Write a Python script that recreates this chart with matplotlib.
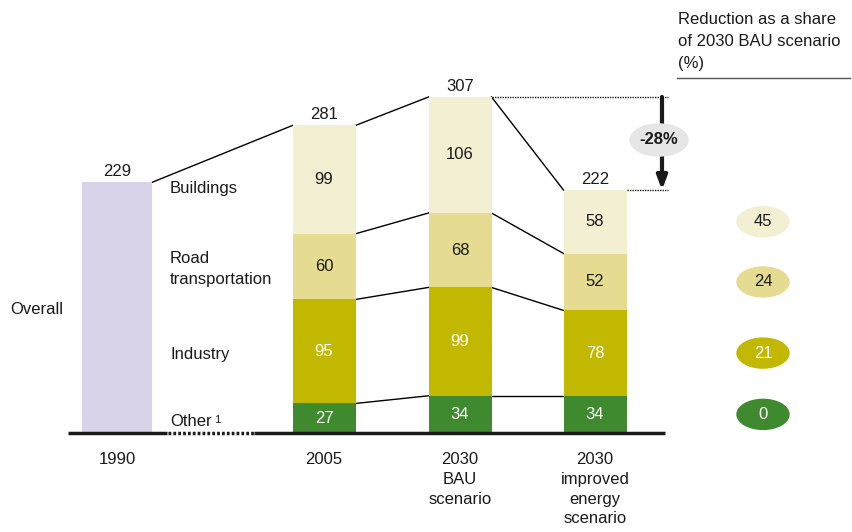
import matplotlib
matplotlib.use('Agg')
import matplotlib.pyplot as plt
from matplotlib.patches import Ellipse

plt.rcParams['font.family'] = ['Liberation Sans', 'DejaVu Sans']

# ── Data ──────────────────────────────────────────────────────
periods = ["1990", "2005", "2030\nBAU\nscenario", "2030\nimproved\nenergy\nscenario"]
overall_1990 = 229
sectors = ["Other", "Industry", "Road\ntransportation", "Buildings"]   # bottom -> top
other = [27, 34, 34]
industry = [95, 99, 78]
road = [60, 68, 52]
buildings = [99, 106, 58]
reduction_pct = [0, 21, 24, 45]   # share of 2030 BAU, per sector (bottom -> top)

# ── Style ─────────────────────────────────────────────────────
SECTOR_COLORS = ['#3f8a2f', '#c3b800', '#e6dc91', '#f3efd3']
SECTOR_TEXT = ['white', 'white', '#1a1a1a', '#1a1a1a']
OVERALL_COLOR = '#d8d3e8'
INK = '#1a1a1a'
FS = 12
LS = 1.58

# layout in pixel columns; value axis scaled so 0 sits on the baseline row
X_POS = [117, 324, 460, 595]
W_OVERALL, W_BAR = 70, 63
BASE_ROW, PX_PER_UNIT = 433, 1.0945


def row(py):
    """pixel row -> value-axis coordinate"""
    return (BASE_ROW - py) / PX_PER_UNIT


fig = plt.figure(figsize=(8.52, 5.32), dpi=100)
ax = fig.add_axes([0, 0, 1, 1])
ax.set_xlim(0, 852)
ax.set_ylim(row(532), row(0))
ax.axis('off')

# 1990 overall bar
ax.bar(X_POS[0], overall_1990, width=W_OVERALL, color=OVERALL_COLOR, zorder=2)
ax.text(X_POS[0], overall_1990 + 3, str(overall_1990), ha='center', va='bottom',
        fontsize=FS, color=INK)

# stacked sector bars
stacks = [other, industry, road, buildings]
bottoms = [0, 0, 0]
edges = [[0, 0, 0]]
for k, vals in enumerate(stacks):
    ax.bar(X_POS[1:], vals, width=W_BAR, bottom=bottoms, color=SECTOR_COLORS[k], zorder=2)
    for i, v in enumerate(vals):
        ax.text(X_POS[1 + i], bottoms[i] + v / 2, str(v), ha='center', va='center',
                fontsize=FS, color=SECTOR_TEXT[k], zorder=3)
    bottoms = [b + v for b, v in zip(bottoms, vals)]
    edges.append(list(bottoms))
totals = bottoms

for i, t in enumerate(totals):
    ax.text(X_POS[1 + i], t + 3, str(t), ha='center', va='bottom', fontsize=FS, color=INK)

# connectors between neighbouring bars
ax.plot([X_POS[0] + W_OVERALL / 2, X_POS[1] - W_BAR / 2], [overall_1990, totals[0]],
        color='black', lw=1, zorder=1)
for i in range(2):
    x0, x1 = X_POS[1 + i] + W_BAR / 2, X_POS[2 + i] - W_BAR / 2
    for lvl in edges[1:]:
        ax.plot([x0, x1], [lvl[i], lvl[i + 1]], color='black', lw=1, zorder=1)

# baseline, dotted where the 1990 gap is
ax.plot([68, 167], [0, 0], color=INK, lw=2.5, solid_capstyle='butt', zorder=4)
ax.plot([168, 254], [0, 0], color=INK, lw=2.5, linestyle=(0, (0.8, 0.6)), zorder=4)
ax.plot([254, 665], [0, 0], color=INK, lw=2.5, solid_capstyle='butt', zorder=4)

# sector labels
label_rows = [421, 354, 269, 188]
for name, py in zip(sectors, label_rows):
    t = ax.text(170, row(py), name, ha='left', va='center', fontsize=FS, color=INK,
                linespacing=LS)
    if name == "Other":
        ax.annotate("1", xy=(1, 1), xycoords=t, xytext=(1.5, -1), textcoords='offset points',
                    fontsize=8, color=INK, ha='left', va='top')
ax.text(10, row(310), "Overall", ha='left', va='center', fontsize=FS, color=INK)

# period labels
for x, lab in zip(X_POS, periods):
    ax.text(x, row(452), lab, ha='center', va='top', fontsize=FS, color=INK,
            linespacing=1.4)

# reduction vs BAU
bau, imp = totals[1], totals[2]
arrow_x = 662
ax.plot([X_POS[2] + W_BAR / 2, 668], [bau, bau], color=INK, lw=1, linestyle=(0, (1, 0.8)))
ax.plot([X_POS[3] + W_BAR / 2, 668], [imp, imp], color=INK, lw=1, linestyle=(0, (1, 0.8)))
ax.annotate("", xy=(arrow_x, imp), xytext=(arrow_x, bau),
            arrowprops=dict(arrowstyle='-|>,head_width=0.3,head_length=0.8',
                            color=INK, lw=3, shrinkA=0, shrinkB=0))
ax.add_patch(Ellipse((659, row(140)), 58, 32 / PX_PER_UNIT, color='#e6e6e6', zorder=5))
ax.text(659, row(140), f"{round((imp - bau) / bau * 100)}%", ha='center', va='center',
        fontsize=FS, fontweight='bold', color=INK, zorder=6)

# right-hand panel: reduction share per sector
ax.text(678, row(12), "Reduction as a share\nof 2030 BAU scenario\n(%)", ha='left', va='top',
        fontsize=FS, color=INK, linespacing=LS)
ax.plot([677, 850], [row(78), row(78)], color='#555555', lw=1)
bot = 0
for k, vals in enumerate(stacks):
    cy = bot + vals[2] / 2
    bot += vals[2]
    ax.add_patch(Ellipse((763, cy), 52, 30 / PX_PER_UNIT, color=SECTOR_COLORS[k], zorder=5))
    ax.text(763, cy, str(reduction_pct[k]), ha='center', va='center', fontsize=FS,
            color=SECTOR_TEXT[k], zorder=6)

fig.savefig('out.png', dpi=100, facecolor='white')
